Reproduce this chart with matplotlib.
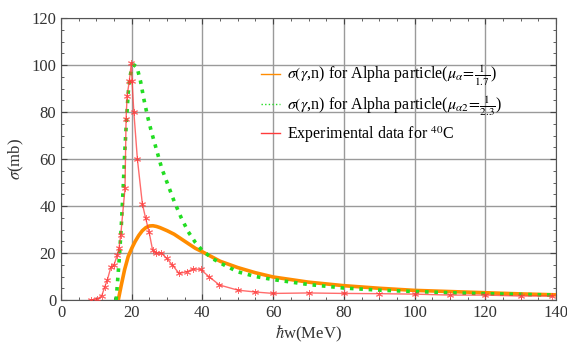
import matplotlib
matplotlib.use("Agg")
import matplotlib.pyplot as plt
from matplotlib.ticker import MultipleLocator

plt.rcParams['font.family'] = ['Liberation Serif', 'DejaVu Serif']
plt.rcParams['mathtext.fontset'] = 'stix'

# Orange curve: sigma(gamma,n), mu = 1/1.7
e_orange = [16.2, 17, 18, 19, 20, 21, 22, 23, 24, 25, 26, 27, 28, 30, 32, 35, 38, 40,
            45, 50, 55, 60, 70, 80, 90, 100, 110, 120, 130, 140]
s_orange = [0, 6, 13, 18.5, 22, 25, 27.5, 29.5, 30.8, 31.5, 31.6, 31.3, 30.8, 29.5, 28, 25,
            22, 20.5, 16.5, 13.8, 11.6, 9.8, 7.6, 6.1, 5.0, 4.1, 3.6, 3.1, 2.6, 2.2]

# Green curve: sigma(gamma,n), mu = 1/2.3
e_green = [15.6, 16, 16.5, 17, 17.5, 18, 18.5, 19, 19.5, 20, 20.7, 21.5, 22.5, 23.5, 24.5,
           25.5, 27, 28.5, 30, 32, 34, 36, 38, 40, 43, 46, 50, 55, 60, 70, 80, 90, 100,
           110, 120, 130, 140]
s_green = [0, 8, 18, 30, 45, 62, 76, 88, 95, 98.5, 100, 99, 93, 85, 78, 72, 64, 56, 50, 42,
           35, 29, 24.5, 21, 17.5, 15, 12, 10, 8.7, 6.6, 5.1, 4.2, 3.6, 3.1, 2.7, 2.4, 2.1]

# Red experimental data
e_exp = [8.4, 10.3, 11.5, 12.4, 13.1, 14.1, 15.0, 15.9, 16.4, 16.9, 18.1, 18.4, 18.7, 19.3,
         19.9, 20.1, 20.6, 21.6, 23.0, 23.9, 24.9, 25.9, 27.0, 28.3, 29.9, 31.5, 33.4, 35.5,
         37.4, 39.5, 41.8, 44.8, 50, 55, 60, 70, 80, 90, 100, 110, 120, 130, 139]
s_exp = [0, 0.5, 1.7, 5.7, 8.5, 14, 15, 19, 22, 27.7, 47.6, 77, 87, 93, 101, 93, 80, 60, 41,
         35, 29, 21.3, 19.9, 20.1, 17.7, 14.9, 11.3, 12, 13.2, 13, 10, 6.4, 4.2, 3.4, 2.8,
         3.0, 2.8, 2.7, 2.5, 2.1, 2.1, 1.7, 1.7]

x_ticks = [0, 20, 40, 60, 80, 100, 120, 140]
y_ticks = [0, 20, 40, 60, 80, 100, 120]

fig = plt.figure(figsize=(5.67, 3.45), dpi=100)
ax = fig.add_axes([0.1076, 0.1304, 0.873, 0.8174])

ax.plot(e_orange, s_orange, color='#ff8c00', lw=2.6, zorder=3,
        label=r'$\sigma(\gamma$,n) for Alpha particle($\mu_\alpha\!=\!\frac{1}{1.7}$)')
ax.plot(e_green, s_green, color='#22dd22', lw=2.6, ls=(0, (1.0, 1.6)), zorder=4,
        label=r'$\sigma(\gamma$,n) for Alpha particle($\mu_{\alpha 2}\!=\!\frac{1}{2.3}$)')
ax.plot(e_exp, s_exp, color='#ff3b3b', lw=1.0, alpha=0.75, marker=(6, 2, 0), ms=5,
        mew=0.7, zorder=5, label=r'Experimental data for $^{40}$C')

ax.set_xlim(0, 140)
ax.set_ylim(0, 120)
ax.set_xticks(x_ticks)
ax.set_yticks(y_ticks)
ax.xaxis.set_minor_locator(MultipleLocator(5))
ax.yaxis.set_minor_locator(MultipleLocator(5))
ax.tick_params(which='both', direction='in', top=True, right=True, colors='#444444',
               labelcolor='#333333', labelsize=12)
ax.tick_params(which='major', length=4)
ax.tick_params(which='minor', length=2)
ax.grid(True, which='major', color='#9a9a9a', lw=1.0)
for sp in ax.spines.values():
    sp.set_color('#555555')

ax.set_xlabel(r'$\hbar$w(MeV)', fontsize=12, color='#333333', labelpad=2)
ax.set_ylabel(r'$\sigma$(mb)', fontsize=12, color='#333333', labelpad=4)

leg = ax.legend(loc='upper left', bbox_to_anchor=(0.375, 0.89), frameon=False,
                fontsize=11.5, handlelength=1.2, handletextpad=0.4, labelspacing=0.4)
for h in leg.get_lines():
    h.set_linewidth(1.0)
    h.set_marker('')
    h.set_alpha(1)

fig.savefig('out.png', dpi=100)
